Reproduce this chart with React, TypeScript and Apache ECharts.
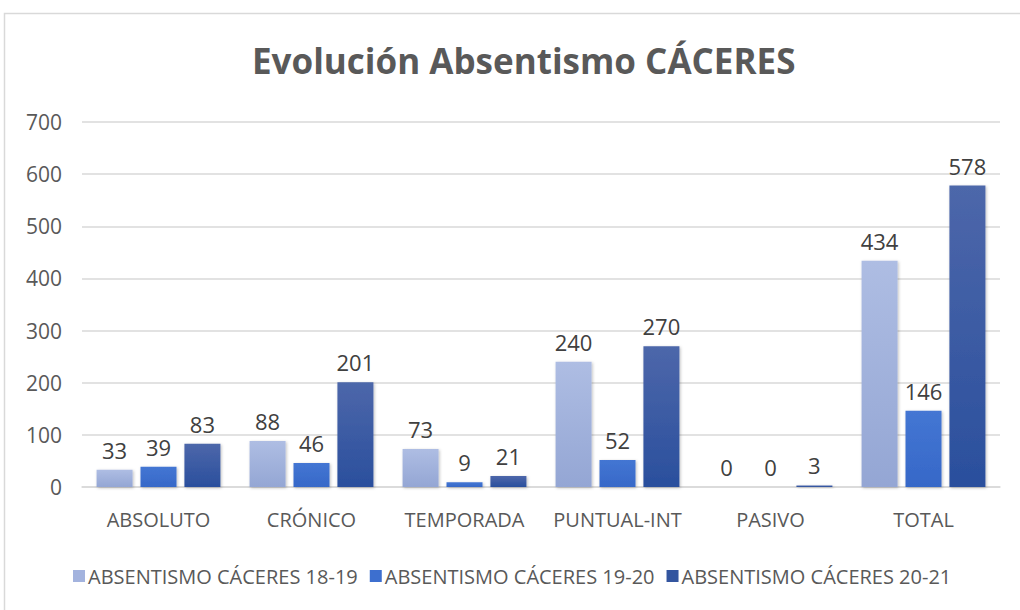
import React, { useEffect, useRef } from "react";
import * as echarts from "echarts";

const categories = ["ABSOLUTO", "CRÓNICO", "TEMPORADA", "PUNTUAL-INT", "PASIVO", "TOTAL"];
const seriesNames = ["ABSENTISMO CÁCERES 18-19", "ABSENTISMO CÁCERES 19-20", "ABSENTISMO CÁCERES 20-21"];
const values1819 = [33, 88, 73, 240, 0, 434];
const values1920 = [39, 46, 9, 52, 0, 146];
const values2021 = [83, 201, 21, 270, 3, 578];
const colorTops = ["#aebde3", "#4476d3", "#4d67aa"];
const colorBottoms = ["#94a6d4", "#3668c8", "#2a4f9d"];
const legendColors = ["#a3b3de", "#3d6fcf", "#33559f"];

export default function App() {
  const ref = useRef<HTMLDivElement>(null);
  useEffect(() => {
    if (!ref.current) return;
    const chart = echarts.init(ref.current, null, { renderer: "svg" });
    const all = [values1819, values1920, values2021];
    chart.setOption({
      animation: false,
      backgroundColor: "#ffffff",
      title: {
        text: "Evolución Absentismo CÁCERES",
        left: 247,
        top: 38,
        textStyle: { fontFamily: "Open Sans", fontWeight: "bold", fontSize: 35, color: "#595959" },
      },
      graphic: [
        {
          type: "rect",
          shape: { x: 4.5, y: 13.5, width: 1030, height: 620 },
          style: { fill: "none", stroke: "#d9d9d9", lineWidth: 1.5 },
          silent: true,
        },
      ],
      legend: {
        bottom: 19,
        left: 68,
        itemWidth: 12,
        itemHeight: 12,
        itemGap: 12,
        icon: "rect",
        textStyle: { fontFamily: "Open Sans", fontSize: 20, color: "#595959", padding: [0, 0, 0, -2] },
        data: seriesNames.map((n, i) => ({ name: n, itemStyle: { color: legendColors[i] } })),
      },
      grid: { left: 82, right: 20, top: 122, bottom: 123, containLabel: false },
      xAxis: {
        type: "category",
        data: categories,
        axisLine: { lineStyle: { color: "#d9d9d9", width: 1.5 } },
        axisTick: { show: false },
        axisLabel: { interval: 0, fontFamily: "Open Sans", fontSize: 20, color: "#595959", margin: 22 },
      },
      yAxis: {
        type: "value",
        min: 0,
        max: 700,
        interval: 100,
        axisLine: { show: false },
        axisTick: { show: false },
        splitLine: { lineStyle: { color: "#d9d9d9", width: 1.5 } },
        axisLabel: { fontFamily: "Open Sans", fontSize: 21, color: "#595959", margin: 20 },
      },
      series: all.map((vals, i) => ({
        name: seriesNames[i],
        type: "bar",
        data: vals,
        barWidth: 36,
        barGap: "22%",
        itemStyle: {
          color: new echarts.graphic.LinearGradient(0, 0, 0, 1, [
            { offset: 0, color: colorTops[i] },
            { offset: 1, color: colorBottoms[i] },
          ]),
          shadowColor: "rgba(0,0,0,0.25)",
          shadowBlur: 3,
          shadowOffsetX: 1,
          shadowOffsetY: 1,
        },
        label: {
          show: true,
          position: "top",
          distance: 9,
          fontFamily: "Open Sans",
          fontSize: 22,
          color: "#404040",
        },
      })),
    });
    return () => chart.dispose();
  }, []);
  return <div ref={ref} style={{ position: "fixed", left: 0, top: 0, width: 1020, height: 610 }} />;
}
